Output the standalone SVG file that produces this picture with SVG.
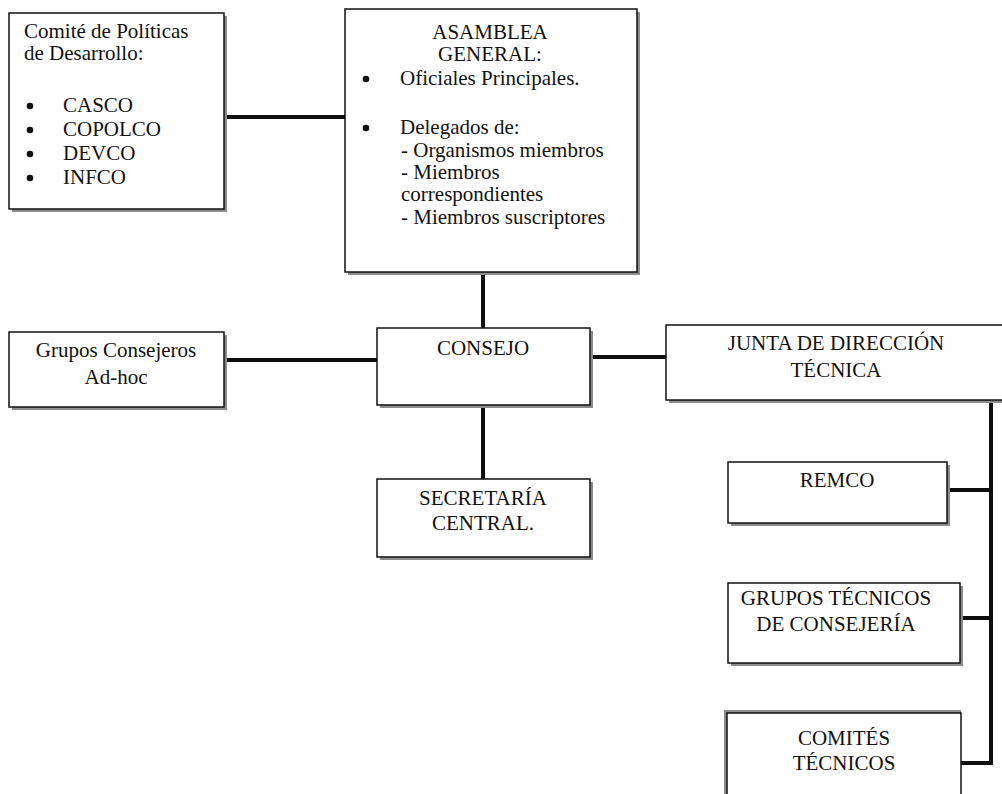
<svg xmlns="http://www.w3.org/2000/svg" width="1002" height="794" viewBox="0 0 1002 794">
<style>
  .box { fill: #ffffff; stroke: #111111; stroke-width: 1.5; }
  .sh { fill: #8c8c8c; }
  .t { font-family: "Liberation Serif", "Times New Roman", serif; font-size: 21px; fill: #111111; }
  .c { text-anchor: middle; }
  .conn { stroke: #0d0d0d; stroke-width: 4; fill: none; stroke-linecap: butt; }
  .dot { fill: #111111; }
</style>
<rect width="1002" height="794" fill="#ffffff"/>

<g id="connectors">
  <line class="conn" x1="225" y1="117" x2="345" y2="117"/>
  <line class="conn" x1="483" y1="273" x2="483" y2="328"/>
  <line class="conn" x1="226" y1="360" x2="377" y2="360"/>
  <line class="conn" x1="592" y1="357" x2="666" y2="357"/>
  <line class="conn" x1="483" y1="407" x2="483" y2="479"/>
  <line class="conn" x1="991" y1="401" x2="991" y2="765"/>
  <line class="conn" x1="949" y1="490" x2="993" y2="490"/>
  <line class="conn" x1="962" y1="618" x2="993" y2="618"/>
  <line class="conn" x1="961" y1="763" x2="993" y2="763"/>
</g>

<g id="comite">
  <rect class="sh" x="12" y="16" width="215" height="196"/>
  <rect class="box" x="9" y="13" width="215" height="196"/>
  <text class="t" x="24" y="38">Comité de Políticas</text>
  <text class="t" x="24" y="60">de Desarrollo:</text>
  <circle class="dot" cx="30" cy="106" r="3.3"/>
  <text class="t" x="63" y="112">CASCO</text>
  <circle class="dot" cx="30" cy="130" r="3.3"/>
  <text class="t" x="63" y="136">COPOLCO</text>
  <circle class="dot" cx="30" cy="154" r="3.3"/>
  <text class="t" x="63" y="160">DEVCO</text>
  <circle class="dot" cx="30" cy="178" r="3.3"/>
  <text class="t" x="63" y="184">INFCO</text>
</g>

<g id="asamblea">
  <rect class="sh" x="348" y="12" width="292" height="263"/>
  <rect class="box" x="345" y="9" width="292" height="263"/>
  <text class="t c" x="490" y="39">ASAMBLEA</text>
  <text class="t c" x="490" y="61">GENERAL:</text>
  <circle class="dot" cx="366" cy="79" r="3.3"/>
  <text class="t" x="400" y="85">Oficiales Principales.</text>
  <circle class="dot" cx="366" cy="128" r="3.3"/>
  <text class="t" x="400" y="134">Delegados de:</text>
  <text class="t" x="401" y="157">- Organismos miembros</text>
  <text class="t" x="401" y="179">- Miembros</text>
  <text class="t" x="401" y="201">correspondientes</text>
  <text class="t" x="401" y="224">- Miembros suscriptores</text>
</g>

<g id="grupos-consejeros">
  <rect class="sh" x="12" y="335" width="215" height="75"/>
  <rect class="box" x="9" y="332" width="215" height="75"/>
  <text class="t c" x="116" y="357">Grupos Consejeros</text>
  <text class="t c" x="116" y="384">Ad-hoc</text>
</g>

<g id="consejo">
  <rect class="sh" x="380" y="331" width="213" height="77"/>
  <rect class="box" x="377" y="328" width="213" height="77"/>
  <text class="t c" x="483" y="355">CONSEJO</text>
</g>

<g id="junta">
  <rect class="sh" x="669" y="328" width="345" height="75"/>
  <rect class="box" x="666" y="325" width="345" height="75"/>
  <text class="t c" x="836" y="350">JUNTA DE DIRECCIÓN</text>
  <text class="t c" x="836" y="377">TÉCNICA</text>
</g>

<g id="secretaria">
  <rect class="sh" x="380" y="482" width="213" height="78"/>
  <rect class="box" x="377" y="479" width="213" height="78"/>
  <text class="t c" x="483" y="505">SECRETARÍA</text>
  <text class="t c" x="483" y="530">CENTRAL.</text>
</g>

<g id="remco">
  <rect class="sh" x="731" y="465" width="219" height="61"/>
  <rect class="box" x="728" y="462" width="219" height="61"/>
  <text class="t c" x="837" y="487">REMCO</text>
</g>

<g id="grupos-tecnicos">
  <rect class="sh" x="731" y="586" width="232" height="80"/>
  <rect class="box" x="728" y="583" width="232" height="80"/>
  <text class="t c" x="836" y="605">GRUPOS TÉCNICOS</text>
  <text class="t c" x="836" y="631">DE CONSEJERÍA</text>
</g>

<g id="comites">
  <rect class="sh" x="724" y="710" width="237" height="100"/>
  <rect class="box" x="727" y="713" width="234" height="100"/>
  <text class="t c" x="844" y="745">COMITÉS</text>
  <text class="t c" x="844" y="770">TÉCNICOS</text>
</g>
</svg>
